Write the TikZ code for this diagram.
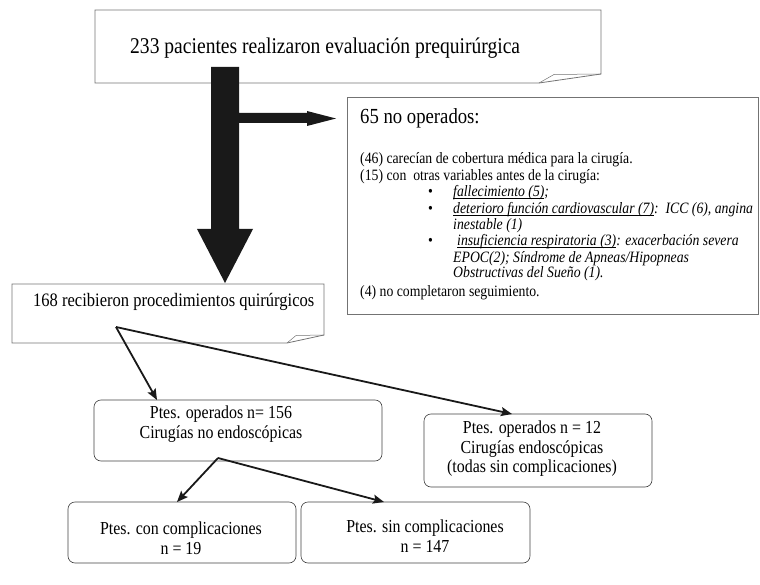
\documentclass[tikz,border=0pt]{standalone}
\usepackage{fontspec}
\setmainfont{Liberation Serif}[FakeStretch=0.87]
\usetikzlibrary{arrows.meta}
\newsavebox\cajasub
\newcommand\subrayado[1]{\sbox\cajasub{#1}\rlap{\rule[-1.8pt]{\wd\cajasub}{0.6pt}}\usebox\cajasub}

\begin{document}
\begin{tikzpicture}[x=1pt,y=-1pt,
  caja/.style={draw=black!75,rounded corners=7pt,line width=0.6pt,inner sep=0pt,outer sep=0pt},
  nota/.style={draw=black!55,line width=0.8pt},
  flecha/.style={line width=1.8pt,draw=black!90,-{Stealth[length=11pt,width=9pt,inset=2pt]}},
  texto/.style={align=center,inner sep=0pt,font=\fontsize{18.3}{19.5}\selectfont},
  lista/.style={anchor=base west,inner sep=0pt,font=\fontsize{15.8}{16}\selectfont}]
\useasboundingbox (0,0) rectangle (760,585);

\draw[nota] (539,83) -- (95,83) -- (95,10) -- (601,10) -- (601,74) -- cycle;
\draw[nota,line width=0.5pt] (539,83) -- (554,74.5) -- (601,74);
\node[anchor=base west,inner sep=0pt,font=\fontsize{22.5}{24}\selectfont] (eval) at (130,54) {233 pacientes realizaron evaluación prequirúrgica};

\fill[black!90] (211,67) -- (239,67) -- (239,113) -- (307,113) -- (307,111) -- (336,118.5) -- (307,126) -- (307,123) -- (239,123) -- (239,229) -- (253,229) -- (225,283) -- (197,229) -- (211,229) -- cycle;

\draw[nota] (347,97) rectangle (758.5,314);
\node[anchor=base west,inner sep=0pt,font=\fontsize{21.5}{24}\selectfont] (noop) at (360,124) {65 no operados:};
\node[lista] (l46) at (360,164) {(46) carecían de cobertura médica para la cirugía.};
\node[lista] (l15) at (360,181) {(15) con\ \ otras variables antes de la cirugía:};
\node[lista] (b1) at (428,197) {•};
\node[lista] (b2) at (428,214) {•};
\node[lista] (b3) at (428,246) {•};
\node[lista] (fall) at (453,197) {\itshape\subrayado{fallecimiento (5)};};
\node[lista] (card) at (453,214) {\itshape\subrayado{deterioro función cardiovascular (7)}:\ \ ICC (6), angina};
\node[lista] (card2) at (453,230) {\itshape inestable (1)};
\node[lista] (resp) at (457,246) {\itshape\subrayado{insuficiencia respiratoria (3)}: exacerbación severa};
\node[lista] (resp2) at (453,262) {\itshape EPOC(2); Síndrome de Apneas/Hipopneas};
\node[lista] (resp3) at (453,278) {\itshape Obstructivas del Sueño (1).};
\node[lista] (l4) at (360,296) {(4) no completaron seguimiento.};

\draw[nota] (287,343) -- (12,343) -- (12,284) -- (324,284) -- (324,335) -- cycle;
\draw[nota,line width=0.5pt] (287,343) -- (296,335.5) -- (324,335);
\node[anchor=base west,inner sep=0pt,font=\fontsize{19}{20}\selectfont] (rec) at (33,306) {168 recibieron procedimientos quirúrgicos};

\node[caja,minimum width=288pt,minimum height=61pt] (op156) at (238,430.5) {};
\node[caja,minimum width=228pt,minimum height=73pt] (op12) at (538,450.5) {};
\node[caja,minimum width=228pt,minimum height=61pt] (con) at (182,532.5) {};
\node[caja,minimum width=229pt,minimum height=61pt] (sin) at (415.5,532.5) {};

\node[texto] (t156) at (221,424) {Ptes. operados n= 156\\Cirugías no endoscópicas};
\node[texto] (t12) at (532,449) {Ptes. operados n = 12\\Cirugías endoscópicas\\(todas sin complicaciones)};
\node[texto] (tcon) at (181,538) {Ptes. con complicaciones\\n = 19};
\node[texto] (tsin) at (425,536) {Ptes. sin complicaciones\\n = 147};

\coordinate (s168) at (116,327);
\coordinate (e156) at (157,400);
\coordinate (e12) at (512,414);
\coordinate (s156) at (218,458);
\coordinate (econ) at (177,502);
\coordinate (esin) at (384,502);
\draw[flecha] (s168) -- (e156);
\draw[flecha] (s168) -- (e12);
\draw[flecha] (s156) -- (econ);
\draw[flecha] (s156) -- (esin);
\end{tikzpicture}
\end{document}
